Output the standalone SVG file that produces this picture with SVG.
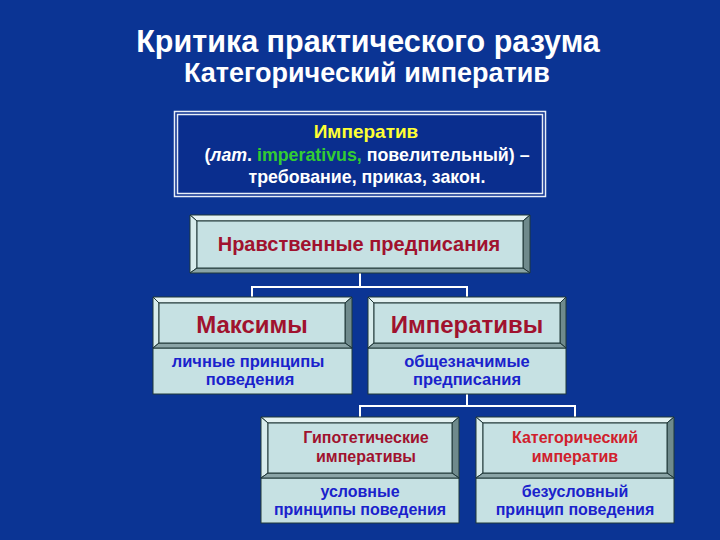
<svg xmlns="http://www.w3.org/2000/svg" width="720" height="540" viewBox="0 0 720 540">
<defs>
<style>
text{font-family:"Liberation Sans",Arial,sans-serif;font-weight:bold;text-anchor:middle}
.title{fill:#ffffff}
.face{fill:#c6e1e3;stroke:#203838;stroke-width:1}
.bt{fill:#e4f2f2;stroke:#203838;stroke-width:1}
.bl{fill:#d8ecec;stroke:#203838;stroke-width:1}
.br{fill:#6f8a8c;stroke:#203838;stroke-width:1}
.bb{fill:#8aa4a6;stroke:#203838;stroke-width:1}
.low{fill:#c6e1e3;stroke:#203838;stroke-width:1}
.head{fill:#a0122e}
.red{fill:#d0202c}
.sub{fill:#1a22cc}
.conn{fill:none;stroke:#ffffff;stroke-width:2}
</style>
</defs>
<rect x="0" y="0" width="720" height="540" fill="#0b3494"/>
<g id="title">
<text class="title" x="368" y="52" font-size="30.5">Критика практического разума</text>
<text class="title" x="367" y="82" font-size="27">Категорический императив</text>
</g>
<g id="definition">
<rect x="174.5" y="111.5" width="371" height="85" fill="#0a2e8e" stroke="#e8eef8" stroke-width="1.5"/>
<rect x="177.5" y="114.5" width="365" height="79" fill="none" stroke="#e8eef8" stroke-width="1.5"/>
<text x="366" y="138" font-size="19" fill="#ffff33">Императив</text>
<text x="367" y="161" font-size="17.8" fill="#ffffff">(<tspan font-style="italic">лат</tspan>. <tspan fill="#33cc33">imperativus,</tspan> повелительный) –</text>
<text x="367" y="183" font-size="17.8" fill="#ffffff">требование, приказ, закон.</text>
</g>
<g id="connectors">
<path class="conn" d="M360 273 V287 M252 297 V287 H467 V297 M467 394 V406 M360 417 V406 H575 V417"/>
</g>
<g id="node-moral">
<polygon class="bt" points="190,215 530,215 523,221 197,221"/>
<polygon class="bl" points="190,215 197,221 197,268 190,273"/>
<polygon class="br" points="530,215 530,273 523,268 523,221"/>
<polygon class="bb" points="190,273 530,273 523,268 197,268"/>
<rect class="face" x="197" y="221" width="326" height="47"/>
<text class="head" x="359" y="251" font-size="20">Нравственные предписания</text>
</g>
<g id="node-maxims">
<rect class="low" x="153" y="348" width="199" height="46"/>
<polygon class="bt" points="153,297 352,297 345,303 159,303"/>
<polygon class="bl" points="153,297 159,303 159,343 153,348"/>
<polygon class="br" points="352,297 352,348 345,343 345,303"/>
<polygon class="bb" points="153,348 352,348 345,343 159,343"/>
<rect class="face" x="159" y="303" width="186" height="40"/>
<text class="head" x="252" y="333" font-size="24">Максимы</text>
<text class="sub" x="248" y="367" font-size="16.5">личные принципы</text>
<text class="sub" x="250" y="385" font-size="16.5">поведения</text>
</g>
<g id="node-imperatives">
<rect class="low" x="368" y="348" width="198" height="46"/>
<polygon class="bt" points="368,297 566,297 560,303 374,303"/>
<polygon class="bl" points="368,297 374,303 374,343 368,348"/>
<polygon class="br" points="566,297 566,348 560,343 560,303"/>
<polygon class="bb" points="368,348 566,348 560,343 374,343"/>
<rect class="face" x="374" y="303" width="186" height="40"/>
<text class="head" x="467" y="333" font-size="24">Императивы</text>
<text class="sub" x="467" y="367" font-size="16.5">общезначимые</text>
<text class="sub" x="467" y="385" font-size="16.5">предписания</text>
</g>
<g id="node-hypothetical">
<rect class="low" x="261" y="478" width="198" height="45"/>
<polygon class="bt" points="261,417 459,417 452,423 268,423"/>
<polygon class="bl" points="261,417 268,423 268,473 261,478"/>
<polygon class="br" points="459,417 459,478 452,473 452,423"/>
<polygon class="bb" points="261,478 459,478 452,473 268,473"/>
<rect class="face" x="268" y="423" width="184" height="50"/>
<text class="head" x="366" y="443" font-size="16">Гипотетические</text>
<text class="head" x="366" y="462" font-size="16">императивы</text>
<text class="sub" x="360" y="497" font-size="16">условные</text>
<text class="sub" x="360" y="515" font-size="16">принципы поведения</text>
</g>
<g id="node-categorical">
<rect class="low" x="476" y="478" width="198" height="45"/>
<polygon class="bt" points="476,417 674,417 667,423 483,423"/>
<polygon class="bl" points="476,417 483,423 483,473 476,478"/>
<polygon class="br" points="674,417 674,478 667,473 667,423"/>
<polygon class="bb" points="476,478 674,478 667,473 483,473"/>
<rect class="face" x="483" y="423" width="184" height="50"/>
<text class="red" x="575" y="443" font-size="16">Категорический</text>
<text class="red" x="575" y="462" font-size="16">императив</text>
<text class="sub" x="575" y="497" font-size="16">безусловный</text>
<text class="sub" x="575" y="515" font-size="16">принцип поведения</text>
</g>
</svg>
